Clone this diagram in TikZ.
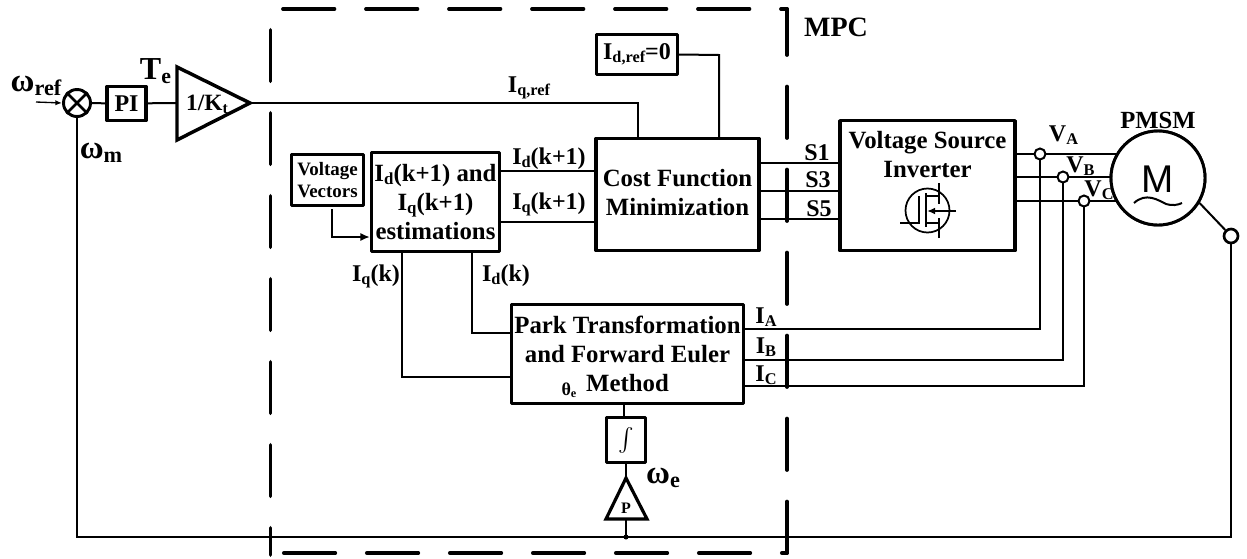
\documentclass[tikz,border=0pt]{standalone}
\usepackage{fontspec}
\setmainfont{Liberation Serif}
\newfontfamily\msans{Liberation Sans}
\usetikzlibrary{arrows.meta,shapes.geometric}
\newcommand{\dn}[1]{\raisebox{-0.28ex}{\scalebox{0.68}{#1}}}
\def\px{0.75pt}
\tikzset{
  boxn/.style={draw,line width=2.6pt,rectangle,inner sep=0pt,align=center,font=\bfseries\fontsize{18.6}{22}\selectfont,line join=round},
  lab/.style={inner sep=0pt,font=\bfseries\fontsize{18}{20}\selectfont},
  biglab/.style={inner sep=0pt,font=\bfseries\fontsize{24.5}{26}\selectfont},
  wire/.style={line width=1.5pt},
  thin wire/.style={line width=1.1pt},
  frame/.style={line width=2.8pt,line cap=round,dash pattern=on 38.6pt off 23.65pt},
  port/.style={circle,draw,fill=white,line width=1.5pt,minimum size=11*\px,inner sep=0pt},
}
\begin{document}
\begin{tikzpicture}[x=0.75pt,y=-0.75pt]
\useasboundingbox (0,0) rectangle (1247,558);
% frame
\coordinate (f1a) at (270.5,29.85); \coordinate (f1b) at (270.5,555);
\coordinate (f2a) at (283,9); \coordinate (f2b) at (787,9);
\coordinate (f3a) at (787,9); \coordinate (f3b) at (787,553);
\coordinate (f4a) at (283.85,553); \coordinate (f4b) at (787,553);
\draw[frame] (f1a) -- (f1b);
\draw[frame] (f2a) -- (f2b);
\draw[frame,dash phase=4.1pt] (f3a) -- (f3b);
\draw[frame] (f4a) -- (f4b);
% blocks
\node[circle,draw,line width=2.2pt,minimum size=27*\px,inner sep=0pt] (sum) at (77,103) {};
\draw[line width=2pt] (sum.north west) -- (sum.south east) (sum.north east) -- (sum.south west);
\node[boxn,minimum width=39*\px,minimum height=34*\px,font=\bfseries\fontsize{18}{20}\selectfont] (pi) at (126.5,103.5) {PI};
\coordinate (kin) at (177,103);
\path[draw,line width=2.6pt,line join=miter] (177,67) coordinate (k1) -- (250,103) coordinate (k2) -- (177,140) coordinate (k3) -- cycle;
\node[lab,font=\bfseries\fontsize{17.5}{18}\selectfont] (ktext) at (207,104) {1/K\dn{t}};
\node[boxn,minimum width=81*\px,minimum height=40*\px,font=\bfseries\fontsize{18}{20}\selectfont] (idref) at (637,54.5) {I\dn{d,ref}=0};
\node[boxn,minimum width=163*\px,minimum height=112*\px,text depth=3pt] (cost) at (677.5,194.5) {Cost Function\\Minimization};
\node[boxn,minimum width=175*\px,minimum height=130*\px,anchor=north] (vsi) at (927.5,119) {};
\node[inner sep=0pt,align=center,font=\bfseries\fontsize{18.6}{22}\selectfont] (vsit) at (927.5,154.5) {Voltage Source\\Inverter};
\node[boxn,minimum width=72*\px,minimum height=51*\px,font=\bfseries\fontsize{14.2}{16.5}\selectfont,line width=2.2pt] (vv) at (327.5,180) {Voltage\\Vectors};
\node[boxn,minimum width=128*\px,minimum height=99*\px] (est) at (435.5,202) {I\dn{d}(k+1) and\\I\dn{q}(k+1)\\estimations};
\node[boxn,minimum width=232*\px,minimum height=99*\px] (park) at (627.5,354) {Park Transformation\\and Forward Euler\\Method};
\node[boxn,minimum width=39*\px,minimum height=45*\px,line width=2.2pt] (int) at (626,440) {\scalebox{1.75}{$\int$}};
\coordinate (p1) at (626,478); \coordinate (p2) at (606,519); \coordinate (p3) at (647,519);
\draw[line width=2.4pt,line join=miter] (p1) -- (p3) -- (p2) -- cycle;
\node[lab,font=\bfseries\fontsize{12}{12}\selectfont] (ptext) at (626,508) {P};
% motor
\node[circle,draw,line width=2.2pt,minimum size=94*\px,inner sep=0pt] (motor) at (1158,178) {};
\coordinate (t1) at (1134,203); \coordinate (t2) at (1182,203);
% mosfet
\node[circle,draw,line width=1.3pt,minimum size=44*\px,inner sep=0pt] (fet) at (927.5,210.5) {};
\coordinate (g0) at (900,223); \coordinate (g1) at (919,223); \coordinate (g2) at (919,196);
\coordinate (c1) at (926,193); \coordinate (c2) at (926,227);
\coordinate (d1) at (939,183); \coordinate (d2) at (939,204); \coordinate (s1) at (939,238); \coordinate (s2) at (939,218);
\coordinate (a1) at (956,211); \coordinate (a2) at (927,211);
\draw[line width=1.3pt] (g0) -- (g1) -- (g2);
\draw[line width=1.8pt] (c1) -- (c2);
\draw[line width=1.3pt] (926,196) -- (939,196) (d1) -- (d2) (926,223) -- (939,223) (s1) -- (s2);
\draw[line width=1.3pt,-{Latex[length=6pt,width=5pt]}] (a1) -- (a2);
% ports
\coordinate (pa0) at (1040,154); \coordinate (pb0) at (1063,177); \coordinate (pc0) at (1084,201);
\coordinate (ia) at (1040,329); \coordinate (ib) at (1063,360); \coordinate (ic) at (1084,386);
% coordinates
\coordinate (inw) at (36,102);
\coordinate (bl) at (77,537);
\coordinate (br) at (1231,537);
\coordinate (qtop) at (638,103);
\coordinate (dtop) at (719,55);
\coordinate (va) at (332,237);
\coordinate (vb) at (332,209);
\coordinate (j) at (626,537);
\coordinate (qk) at (402,377);
\coordinate (dk) at (472,333);
\coordinate (qk0) at (402,252);
\coordinate (dk0) at (472,252);
\coordinate (ip) at (624,404); \coordinate (iq) at (624,417);
% wires
\draw[line width=1pt,-{Latex[length=5pt,width=4pt]}] (inw) -- (sum.west);
\draw[wire] (sum) -- (pi);
\draw[wire] (pi) -- (kin);
\draw[wire] (k2) -- (qtop) -- (cost.north -| qtop);
\draw[wire] (idref.east) -- (dtop) -- (cost.north -| dtop);
\draw[wire] (est.east |- 0,171) -- (cost.west |- 0,171);
\draw[thin wire] (est.east |- 0,222) -- (cost.west |- 0,222);
\draw[wire] (cost.east |- 0,163) -- (vsi.west |- 0,163);
\draw[wire] (cost.east |- 0,191) -- (vsi.west |- 0,191);
\draw[wire] (cost.east |- 0,219) -- (vsi.west |- 0,219);
\draw[wire] (vsi.east |- pa0) -- (pa0) -- (motor.center |- pa0);
\draw[wire] (vsi.east |- pb0) -- (pb0) -- (motor.center |- pb0);
\draw[wire] (vsi.east |- pc0) -- (pc0) -- (motor.center |- pc0);
\node[circle,draw,fill=white,line width=2.2pt,minimum size=94*\px,inner sep=0pt] at (1158,178) {};
\node[inner sep=0pt,font=\msans\fontsize{29}{29}\selectfont] (mtext) at (1158,179) {M};
\draw[line width=1.5pt] (t1) .. controls (1146,192) and (1158,200) .. (1166,204) .. controls (1172,206) and (1178,205) .. (t2);
\draw[wire] (pa0) -- (ia) -- (park.east |- ia);
\draw[wire] (pb0) -- (ib) -- (park.east |- ib);
\draw[wire] (pc0) -- (ic) -- (park.east |- ic);
\node[port] (pa) at (pa0) {};
\node[port] (pb) at (pb0) {};
\node[port] (pc) at (pc0) {};
\node[port,line width=2pt,minimum size=14*\px] (pm) at (1231,236) {};
\draw[-{Latex[length=7pt,width=6pt]},line width=1.2pt] (vb) -- (va) -- (est.west |- va);
\draw[wire] (qk0) -- (qk) -- (park.west |- qk);
\draw[wire] (dk0) -- (dk) -- (park.west |- dk);
\draw[wire] (ip) -- (iq);
\draw[wire] (int.south) -- (p1);
\draw[wire] (626,519) -- (j);
\fill (j) circle[radius=2.5*\px];
\draw[wire] (motor.-31) -- (pm);
\draw[wire] (pm) -- (br) -- (bl) -- (sum);
% labels
\node[biglab] (l1) at (36,86) {ω\dn{ref}};
\node[lab,font=\bfseries\fontsize{24}{26}\selectfont] (l2) at (155.5,71) {T\dn{e}};
\node[biglab] (l3) at (101,153) {ω\dn{m}};
\node[lab] (l4) at (529,88) {I\dn{q,ref}};
\node[lab,font=\bfseries\fontsize{21}{22}\selectfont] (l5) at (836,27) {MPC};
\node[lab] (l6) at (817,153) {S1};
\node[lab] (l7) at (818,180) {S3};
\node[lab] (l8) at (819,209) {S5};
\node[lab] (l9) at (1063.5,135) {V\dn{A}};
\node[lab] (l10) at (1080.5,166) {V\dn{B}};
\node[lab] (l11) at (1099,190) {V\dn{C}};
\node[lab,font=\bfseries\fontsize{18.5}{20}\selectfont] (l12) at (1158,120) {PMSM};
\node[lab] (l13) at (549,159) {I\dn{d}(k+1)};
\node[lab] (l14) at (549,204) {I\dn{q}(k+1)};
\node[lab] (l15) at (376,276) {I\dn{q}(k)};
\node[lab] (l16) at (506,276) {I\dn{d}(k)};
\node[lab,font=\bfseries\fontsize{13.5}{14}\selectfont] (l17) at (569,390) {θ\dn{e}};
\node[lab] (l18) at (766,317) {I\dn{A}};
\node[lab] (l19) at (766,347) {I\dn{B}};
\node[lab] (l20) at (766,375) {I\dn{C}};
\node[biglab] (l21) at (663,478) {ω\dn{e}};
\end{tikzpicture}
\end{document}
